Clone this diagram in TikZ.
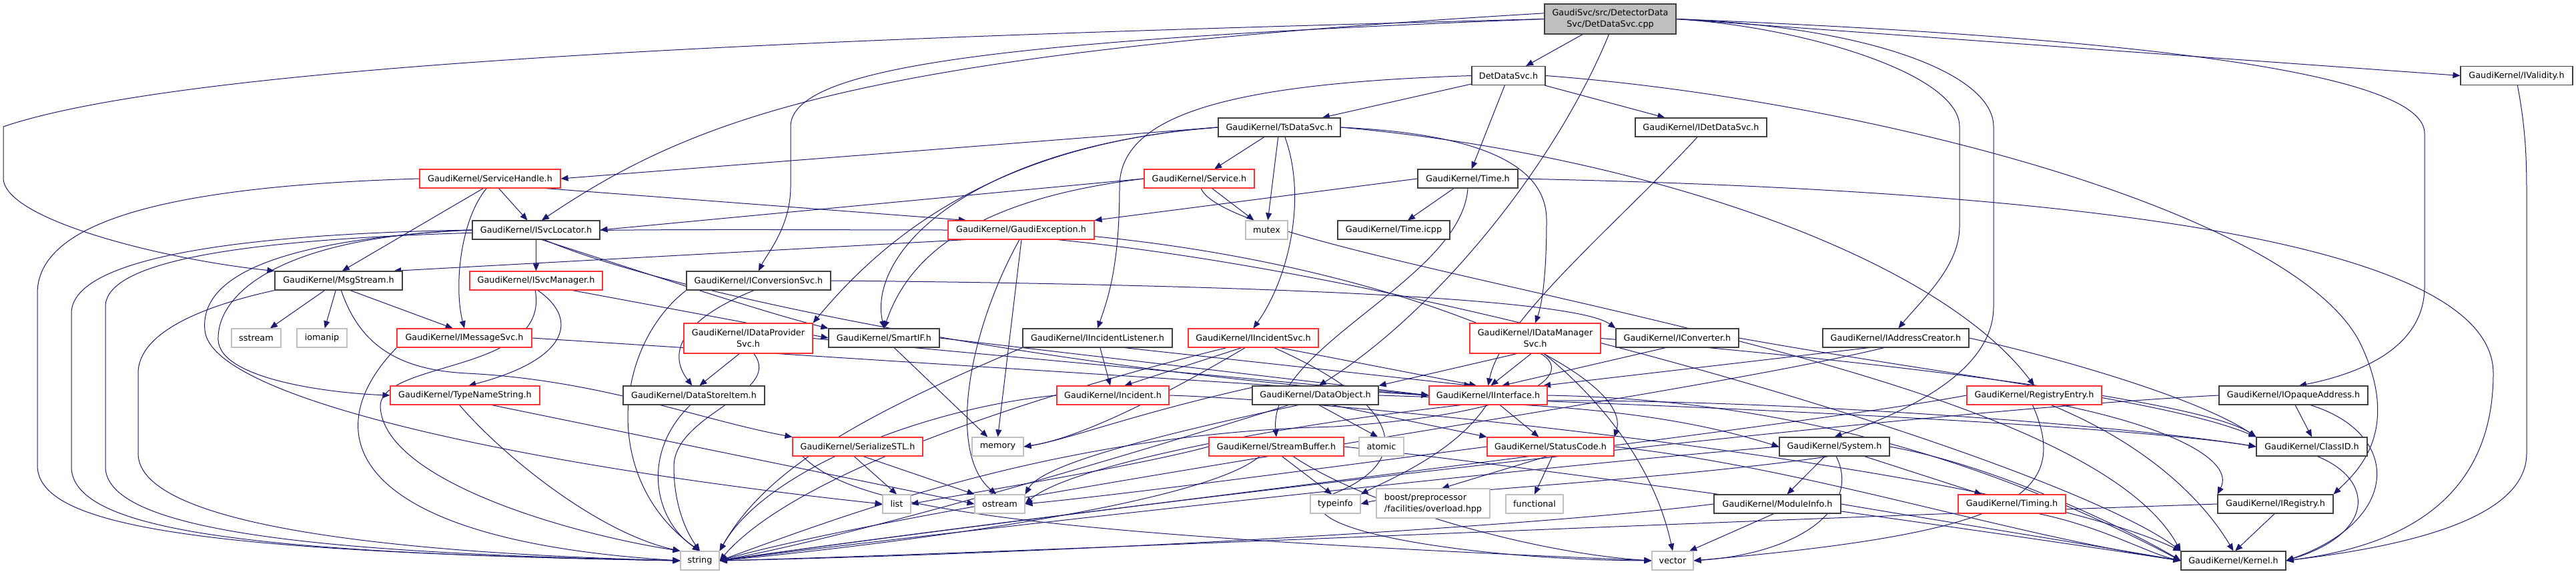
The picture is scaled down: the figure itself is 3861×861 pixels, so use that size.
\documentclass[tikz,border=0pt]{standalone}
\usepackage{fontspec}
\newfontfamily\djv{DejaVu Sans}
\usetikzlibrary{arrows.meta}
\definecolor{eblue}{HTML}{191970}
\definecolor{nred}{HTML}{FF3030}
\definecolor{ngray}{HTML}{BFBFBF}
\pgfdeclarelayer{background}
\pgfsetlayers{background,main}
\tikzset{
  nb/.style={draw=black!75, line width=1.1pt, fill=white, inner sep=0pt, minimum height=28pt, font=\djv\fontsize{12.8}{17}\selectfont, text=black},
  nr/.style={nb, draw=nred},
  ng/.style={nb, draw=ngray},
  e/.style={draw=eblue, line width=1pt, -{Triangle[length=11pt,width=9pt]}}
}
\begin{document}
\begin{tikzpicture}[x=1pt,y=-1pt]
\useasboundingbox (0,0) rectangle (3861,861);
% nodes
\node[nb, fill=ngray, minimum width=197pt, minimum height=45pt, align=center] (cpp) at (2413.5,28.5) {GaudiSvc/src/DetectorData\\Svc/DetDataSvc.cpp};
\node[nb, minimum width=110pt] (det) at (2261,113.5) {DetDataSvc.h};
\node[nb, minimum width=168pt] (valid) at (3772,113.5) {GaudiKernel/IValidity.h};
\node[nb, minimum width=183pt] (tsdata) at (1917.5,191) {GaudiKernel/TsDataSvc.h};
\node[nb, minimum width=197pt] (idet) at (2549.5,191) {GaudiKernel/IDetDataSvc.h};
\node[nr, minimum width=211pt] (servhandle) at (734.5,268) {GaudiKernel/ServiceHandle.h};
\node[nr, minimum width=165pt] (service) at (1797.5,268) {GaudiKernel/Service.h};
\node[nb, minimum width=150pt] (time) at (2200,268) {GaudiKernel/Time.h};
\node[nb, minimum width=191pt] (svcloc) at (803.5,345) {GaudiKernel/ISvcLocator.h};
\node[nr, minimum width=219pt] (gexc) at (1530.5,345) {GaudiKernel/GaudiException.h};
\node[ng, minimum width=63pt] (mutex) at (1898.5,345) {mutex};
\node[nb, minimum width=168pt] (timeicpp) at (2089,345) {GaudiKernel/Time.icpp};
\node[nb, minimum width=191pt] (msg) at (507.5,421) {GaudiKernel/MsgStream.h};
\node[nr, minimum width=199pt] (svcmgr) at (803.5,421) {GaudiKernel/ISvcManager.h};
\node[nb, minimum width=216pt] (convsvc) at (1137,421) {GaudiKernel/IConversionSvc.h};
\node[ng, minimum width=74pt] (sstream) at (384,507) {sstream};
\node[ng, minimum width=75pt] (iomanip) at (482.5,507) {iomanip};
\node[nr, minimum width=202pt] (imsgsvc) at (696,507) {GaudiKernel/IMessageSvc.h};
\node[nr, minimum width=193pt, minimum height=45pt, align=center] (dataprov) at (1121.5,507.5) {GaudiKernel/IDataProvider\\Svc.h};
\node[nb, minimum width=166pt] (smartif) at (1325,507) {GaudiKernel/SmartIF.h};
\node[nb, minimum width=224pt] (inclist) at (1645,507) {GaudiKernel/IIncidentListener.h};
\node[nr, minimum width=195pt] (incsvc) at (1878.5,507) {GaudiKernel/IIncidentSvc.h};
\node[nr, minimum width=196pt, minimum height=45pt, align=center] (datamgr) at (2301,507.5) {GaudiKernel/IDataManager\\Svc.h};
\node[nb, minimum width=184pt] (iconv) at (2514,507) {GaudiKernel/IConverter.h};
\node[nb, minimum width=219pt] (addrcr) at (2841.5,507) {GaudiKernel/IAddressCreator.h};
\node[nr, minimum width=224pt] (typename) at (697,593) {GaudiKernel/TypeNameString.h};
\node[nb, minimum width=212pt] (datastore) at (1040,593) {GaudiKernel/DataStoreItem.h};
\node[nr, minimum width=168pt] (incident) at (1668,593) {GaudiKernel/Incident.h};
\node[nb, minimum width=189pt] (dataobj) at (1971.5,593) {GaudiKernel/DataObject.h};
\node[nr, minimum width=177pt] (iinterface) at (2230.5,593) {GaudiKernel/IInterface.h};
\node[nr, minimum width=202pt] (regentry) at (3049,593) {GaudiKernel/RegistryEntry.h};
\node[nb, minimum width=223pt] (opaque) at (3437.5,593) {GaudiKernel/IOpaqueAddress.h};
\node[nr, minimum width=195pt] (serialize) at (1285.5,670) {GaudiKernel/SerializeSTL.h};
\node[ng, minimum width=77pt] (memory) at (1495.5,670) {memory};
\node[nr, minimum width=202pt] (streambuf) at (1913,670) {GaudiKernel/StreamBuffer.h};
\node[ng, minimum width=67pt] (atomic) at (2070.5,670) {atomic};
\node[nr, minimum width=190pt] (statuscode) at (2324,670) {GaudiKernel/StatusCode.h};
\node[nb, minimum width=165pt] (system) at (2749.5,670) {GaudiKernel/System.h};
\node[nb, minimum width=166pt] (classid) at (3465,670) {GaudiKernel/ClassID.h};
\node[ng, minimum width=42pt] (list) at (1344,756) {list};
\node[ng, minimum width=75pt] (ostream) at (1498.5,756) {ostream};
\node[ng, minimum width=75pt] (typeinfo) at (2001.5,756) {typeinfo};
\node[ng, minimum width=170pt, minimum height=44pt, align=left] (boost) at (2148,755) {boost/preprocessor\\/facilities/overload.hpp};
\node[ng, minimum width=86pt] (functional) at (2300,756) {functional};
\node[nb, minimum width=190pt] (modinfo) at (2664,756) {GaudiKernel/ModuleInfo.h};
\node[nr, minimum width=161pt] (timing) at (3015.5,756) {GaudiKernel/Timing.h};
\node[nb, minimum width=173pt] (ireg) at (3410.5,756) {GaudiKernel/IRegistry.h};
\node[ng, minimum width=58pt] (string) at (1049,841) {string};
\node[ng, minimum width=62pt] (vector) at (2507,841) {vector};
\node[nb, minimum width=157pt] (kernel) at (3347.5,841) {GaudiKernel/Kernel.h};
\begin{pgfonlayer}{background}
% cpp
\draw[e] (cpp) -- (det);
\draw[e] (cpp.west) .. controls (1300,55) and (300,90) .. (5,190) -- (5,267) .. controls (5,330) and (250,390) .. (msg.north west);
\draw[e] (cpp.175) .. controls (1300,80) and (1050,170) .. (svcloc.60);
\draw[e] (cpp.west) .. controls (1500,60) and (1185,100) .. (1185,190) -- (1185,280) .. controls (1185,340) and (1150,380) .. (convsvc.north);
\draw[e] (cpp.265) .. controls (2330,250) and (2150,470) .. (dataobj.70);
\draw[e] (cpp.east) .. controls (2700,40) and (2937,110) .. (2937,190) -- (2937,340) .. controls (2937,400) and (2880,450) .. (addrcr.75);
\draw[e] (cpp.east) .. controls (2800,40) and (2988,110) .. (2988,190) -- (2988,460) .. controls (2988,560) and (2850,620) .. (system.north);
\draw[e] (cpp.east) .. controls (3300,60) and (3634,120) .. (3634,200) -- (3634,430) .. controls (3634,520) and (3540,560) .. (opaque.60);
\draw[e] (cpp.east) -- (valid.west);
% det
\draw[e] (det) -- (tsdata);
\draw[e] (det) -- (time);
\draw[e] (det) -- (idet);
\draw[e] (det.west) .. controls (1850,125) and (1678,170) .. (1678,280) .. controls (1678,400) and (1660,450) .. (inclist.north);
\draw[e] (det.east) .. controls (2800,150) and (3450,320) .. (3540,520) .. controls (3600,650) and (3530,710) .. (ireg.north east);
% tsdata
\draw[e] (tsdata.west) -- (servhandle.east);
\draw[e] (tsdata) -- (service);
\draw[e] (tsdata) -- (mutex);
\draw[e] (tsdata.west) .. controls (1500,215) and (1330,350) .. (dataprov.north east);
\draw[e] (tsdata.west) .. controls (1450,220) and (1300,380) .. (smartif.north);
\draw[e] (tsdata.-60) .. controls (1960,300) and (1930,420) .. (incsvc.north);
\draw[e] (tsdata.east) .. controls (2200,200) and (2318,240) .. (2318,330) .. controls (2318,420) and (2310,460) .. (datamgr.north);
\draw[e] (tsdata.east) .. controls (2450,230) and (2900,380) .. (regentry.north);
% idet
\draw[e] (idet.250) .. controls (2420,340) and (2250,480) .. (iinterface.north);
% time
\draw[e] (time.west) -- (gexc.north east);
\draw[e] (time) -- (timeicpp);
\draw[e] (time.east) .. controls (3100,285) and (3737,360) .. (3737,560) .. controls (3737,780) and (3550,825) .. (kernel.east);
\draw[e] (time.south) .. controls (2190,420) and (1900,520) .. (streambuf.north);
% servhandle
\draw[e] (servhandle) -- (svcloc);
\draw[e] (servhandle.235) -- (msg.70);
\draw[e] (servhandle.-10) -- (gexc.170);
\draw[e] (servhandle.250) .. controls (690,330) and (680,430) .. (imsgsvc.north);
\draw[e] (servhandle.west) .. controls (300,278) and (56,320) .. (56,440) -- (56,700) .. controls (60,790) and (300,828) .. (string.west);
% service
\draw[e] (service.west) -- (svcloc.east);
\draw[e] (service.west) .. controls (1450,300) and (1360,390) .. (smartif.north);
\draw[e] (service) -- (mutex);
\draw[e] (service.-80) .. controls (1850,400) and (3100,520) .. (kernel.north west);
% svcloc
\draw[e] (svcloc) -- (svcmgr);
\draw[e] (svcloc.-60) .. controls (1000,420) and (1150,470) .. (smartif.north west);
\draw[e] (svcloc.-50) .. controls (1000,440) and (1600,560) .. (iinterface.west);
\draw[e] (svcloc.west) .. controls (400,350) and (107,380) .. (107,470) -- (107,700) .. controls (107,800) and (400,830) .. (string.west);
\draw[e] (svcloc.west) .. controls (420,355) and (325,440) .. (327,510) .. controls (330,570) and (500,590) .. (typename.west);
\draw[e] (svcloc.west) .. controls (400,360) and (300,420) .. (307,495) .. controls (315,600) and (800,700) .. (list.west);
% gexc
\draw[e] (gexc.190) -- (msg.10);
\draw[e] (gexc.west) .. controls (900,345) and (158,330) .. (158,460) -- (158,700) .. controls (158,800) and (500,830) .. (string.west);
\draw[e] (gexc.-100) .. controls (1450,500) and (1420,680) .. (ostream.110);
\draw[e] (gexc.-88) -- (memory.north);
\draw[e] (gexc.-5) .. controls (2100,400) and (2450,560) .. (statuscode.north east);
\draw[e] (gexc.-15) .. controls (2200,420) and (3100,700) .. (kernel.north west);
% msg
\draw[e] (msg) -- (sstream);
\draw[e] (msg) -- (iomanip);
\draw[e] (msg.-40) -- (imsgsvc.140);
\draw[e] (msg.-75) .. controls (540,520) and (600,555) .. (700,560) .. controls (900,570) and (1050,630) .. (serialize.north west);
\draw[e] (msg.south west) .. controls (300,460) and (207,500) .. (207,560) -- (207,680) .. controls (207,790) and (600,830) .. (string.west);
% imsgsvc
\draw[e] (imsgsvc.east) -- (iinterface.west);
\draw[e] (imsgsvc.south west) .. controls (470,650) and (520,810) .. (string.west);
% typename
\draw[e] (typename.-120) .. controls (760,690) and (900,800) .. (string.north west);
\draw[e] (typename.-20) -- (ostream.west);
% svcmgr
\draw[e] (svcmgr.-80) .. controls (870,480) and (850,540) .. (typename.70);
\draw[e] (svcmgr.-95) .. controls (825,560) and (570,540) .. (570,610) .. controls (575,720) and (850,800) .. (string.north west);
\draw[e] (svcmgr.-15) -- (smartif.west);
% convsvc
\draw[e] (convsvc.east) .. controls (1700,425) and (2350,440) .. (iconv.north west);
\draw[e] (convsvc.south west) .. controls (920,520) and (900,720) .. (string.north);
\draw[e] (convsvc.-115) .. controls (1020,480) and (1000,530) .. (datastore.100);
% dataprov
\draw[e] (dataprov.-120) -- (datastore.60);
\draw[e] (dataprov.-70) .. controls (1175,590) and (1010,620) .. (1010,700) .. controls (1010,760) and (1030,800) .. (string.north);
\draw[e] (dataprov.east) -- (iinterface.west);
% datastore
\draw[e] (datastore.-110) .. controls (960,680) and (980,780) .. (string.north);
% smartif
\draw[e] (smartif) -- (memory);
\draw[e] (smartif.east) -- (iinterface.west);
% inclist
\draw[e] (inclist) -- (incident);
\draw[e] (inclist.-20) -- (iinterface.150);
\draw[e] (inclist.south west) .. controls (1300,620) and (1150,700) .. (string.north east);
% incsvc
\draw[e] (incsvc.-140) -- (incident.40);
\draw[e] (incsvc.-20) -- (iinterface.140);
\draw[e] (incsvc.-130) .. controls (1700,620) and (1600,660) .. (memory.east);
\draw[e] (incsvc.-160) .. controls (1600,580) and (1200,700) .. (string.east);
\draw[e] (incsvc.-25) .. controls (2130,620) and (2100,700) .. (2000,740) .. controls (1900,790) and (2200,840) .. (vector.west);
% incident
\draw[e] (incident.west) .. controls (1400,610) and (1150,700) .. (string.north east);
\draw[e] (incident.east) .. controls (2000,600) and (3000,700) .. (kernel.north west);
% dataobj
\draw[e] (dataobj.east) .. controls (2600,610) and (3200,640) .. (classid.west);
\draw[e] (dataobj.-30) -- (statuscode.north west);
\draw[e] (dataobj.-70) -- (atomic.110);
\draw[e] (dataobj.-160) .. controls (1700,680) and (1300,800) .. (string.east);
\draw[e] (dataobj.-150) .. controls (1700,660) and (1560,700) .. (ostream.north east);
\draw[e] (dataobj.170) .. controls (1700,620) and (1600,660) .. (memory.east);
% iinterface
\draw[e] (iinterface) -- (statuscode);
\draw[e] (iinterface.-100) .. controls (2180,680) and (2080,720) .. (typeinfo.north east);
\draw[e] (iinterface.east) .. controls (2700,600) and (3000,700) .. (kernel.west);
\draw[e] (iinterface.-5) .. controls (2700,600) and (3200,640) .. (classid.west);
\draw[e] (iinterface.-15) .. controls (2500,620) and (2600,650) .. (system.west);
\draw[e] (iinterface.-160) .. controls (1900,640) and (1600,700) .. (ostream.east);
% statuscode
\draw[e] (statuscode.-110) -- (boost.60);
\draw[e] (statuscode.-80) -- (functional.north);
\draw[e] (statuscode.west) .. controls (2000,700) and (1700,740) .. (ostream.east);
\draw[e] (statuscode.east) .. controls (2700,700) and (3000,800) .. (kernel.west);
% streambuf
\draw[e] (streambuf.-60) -- (typeinfo.110);
\draw[e] (streambuf.-150) .. controls (1800,760) and (1300,820) .. (string.east);
\draw[e] (streambuf.-30) .. controls (2050,760) and (2300,830) .. (vector.west);
\draw[e] (streambuf.west) .. controls (1700,700) and (1450,740) .. (list.east);
\draw[e] (streambuf.east) .. controls (2300,700) and (3000,800) .. (kernel.west);
% serialize
\draw[e] (serialize.-110) -- (list.north);
\draw[e] (serialize.-60) -- (ostream.north west);
\draw[e] (serialize.-170) .. controls (1280,760) and (1500,800) .. (vector.west);
% datamgr
\draw[e] (datamgr.-140) -- (dataobj.north east);
\draw[e] (datamgr.-105) -- (iinterface.75);
\draw[e] (datamgr.-60) .. controls (2400,600) and (2480,700) .. (vector.north);
\draw[e] (datamgr.-70) .. controls (2360,560) and (2300,620) .. (2000,640) .. controls (1600,650) and (1300,760) .. (string.east);
\draw[e] (datamgr.east) .. controls (2800,540) and (3300,600) .. (classid.north west);
% iconv
\draw[e] (iconv.-140) -- (iinterface.35);
\draw[e] (iconv.east) .. controls (2900,560) and (3250,600) .. (classid.north west);
% addrcr
\draw[e] (addrcr.-160) -- (iinterface.10);
\draw[e] (addrcr.-140) .. controls (2500,600) and (1400,750) .. (string.east);
\draw[e] (addrcr.east) .. controls (3100,540) and (3300,600) .. (classid.north west);
% regentry
\draw[e] (regentry.-20) .. controls (3250,640) and (3350,690) .. (ireg.north west);
\draw[e] (regentry.-30) .. controls (3250,680) and (3320,780) .. (kernel.north);
\draw[e] (regentry.-100) .. controls (3110,750) and (3000,800) .. (vector.east);
\draw[e] (regentry.west) .. controls (2700,640) and (1500,780) .. (string.east);
% opaque
\draw[e] (opaque.-80) -- (classid.north);
\draw[e] (opaque.-30) .. controls (3600,650) and (3600,780) .. (kernel.east);
\draw[e] (opaque.west) .. controls (2800,620) and (1500,780) .. (string.east);
% system
\draw[e] (system) -- (modinfo);
\draw[e] (system) -- (timing);
\draw[e] (system.west) .. controls (2300,700) and (1400,800) .. (string.east);
\draw[e] (system.-80) .. controls (2790,760) and (2700,830) .. (vector.east);
\draw[e] (system.-120) .. controls (2500,720) and (2100,740) .. (typeinfo.east);
\draw[e] (system.east) .. controls (3000,700) and (3200,800) .. (kernel.west);
% modinfo
\draw[e] (modinfo.east) .. controls (2900,780) and (3150,820) .. (kernel.west);
\draw[e] (modinfo.-110) -- (vector.30);
\draw[e] (modinfo.west) .. controls (2300,790) and (1600,830) .. (string.east);
% timing
\draw[e] (timing.-20) .. controls (3150,790) and (3220,830) .. (kernel.west);
% ireg
\draw[e] (ireg.-95) -- (kernel.80);
\draw[e] (ireg.west) .. controls (2600,780) and (1500,830) .. (string.east);
% classid
\draw[e] (classid.-60) .. controls (3560,720) and (3560,800) .. (kernel.east);
% valid
\draw[e] (valid.-85) .. controls (3787,200) and (3787,250) .. (3787,300) -- (3787,680) .. controls (3787,780) and (3600,820) .. (kernel.east);
\end{pgfonlayer}
\end{tikzpicture}
\end{document}
